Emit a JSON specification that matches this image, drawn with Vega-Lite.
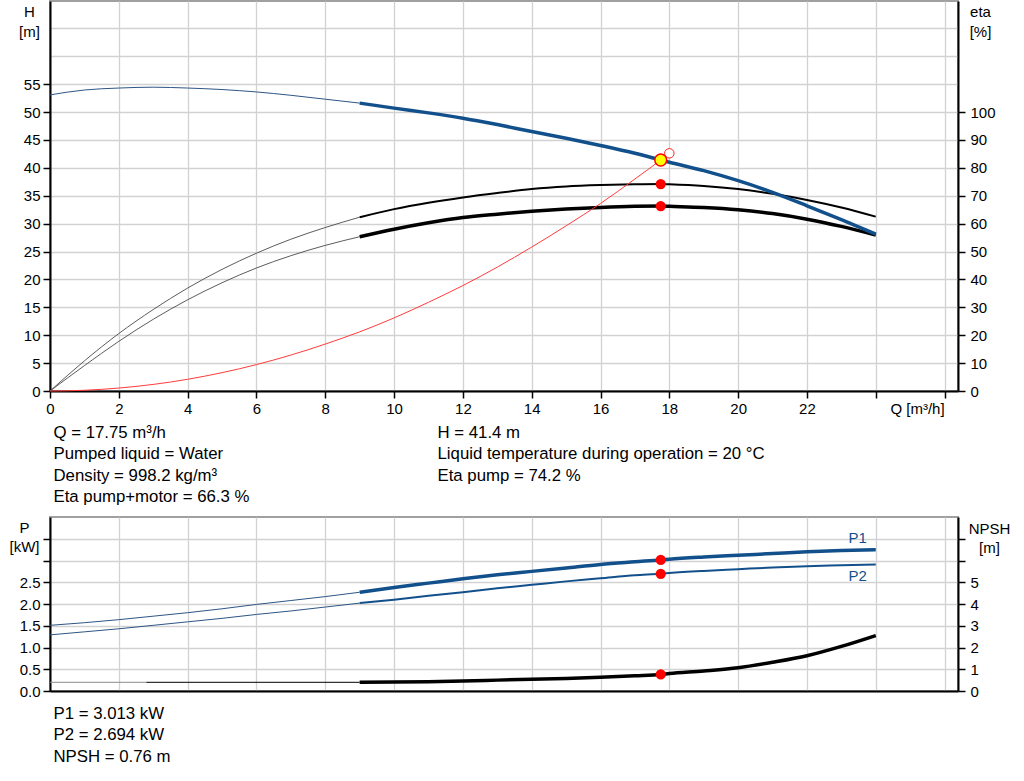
{
  "$schema": "https://vega.github.io/schema/vega-lite/v6.json",
  "description": "Pump performance curves, CR 32-8-2, 60Hz",
  "background": "white",
  "padding": {"left": 8, "top": 0, "right": 0, "bottom": 0},
  "spacing": 0,
  "config": {
    "font": "Liberation Sans",
    "view": {"stroke": "#a0a0a0", "strokeWidth": 2},
    "axis": {
      "labelFont": "Liberation Sans", "labelFontSize": 15, "labelColor": "black",
      "titleFont": "Liberation Sans", "titleFontSize": 15, "titleFontWeight": "normal", "titleColor": "black",
      "domainColor": "black", "domainWidth": 2,
      "tickColor": "black", "tickWidth": 1.5, "tickSize": 7,
      "gridColor": "#d2d2d2", "gridWidth": 1.3, "labelPadding": 3
    },
    "text": {"font": "Liberation Sans", "fontSize": 15, "color": "black"}
  },
  "datasets": {
    "head": [
      {"curve": "H ext", "q": 0, "h": 53.07}, {"curve": "H ext", "q": 1, "h": 53.95}, {"curve": "H ext", "q": 2, "h": 54.3},
      {"curve": "H ext", "q": 3, "h": 54.45}, {"curve": "H ext", "q": 4, "h": 54.3}, {"curve": "H ext", "q": 5, "h": 54.03},
      {"curve": "H ext", "q": 6, "h": 53.6}, {"curve": "H ext", "q": 7, "h": 53.0}, {"curve": "H ext", "q": 8, "h": 52.3},
      {"curve": "H ext", "q": 9, "h": 51.6},
      {"curve": "H", "q": 9, "h": 51.6}, {"curve": "H", "q": 10, "h": 50.7}, {"curve": "H", "q": 11, "h": 49.85},
      {"curve": "H", "q": 12, "h": 48.9}, {"curve": "H", "q": 13, "h": 47.75}, {"curve": "H", "q": 14, "h": 46.5},
      {"curve": "H", "q": 15, "h": 45.3}, {"curve": "H", "q": 16, "h": 44.0}, {"curve": "H", "q": 17, "h": 42.6},
      {"curve": "H", "q": 17.75, "h": 41.4}, {"curve": "H", "q": 18, "h": 41.0}, {"curve": "H", "q": 19, "h": 39.5},
      {"curve": "H", "q": 20, "h": 37.7}, {"curve": "H", "q": 21, "h": 35.6}, {"curve": "H", "q": 22, "h": 33.2},
      {"curve": "H", "q": 23, "h": 30.7}, {"curve": "H", "q": 24, "h": 28.1},
      {"curve": "system", "q": 0, "h": 0}, {"curve": "system", "q": 1, "h": 0.13}, {"curve": "system", "q": 2, "h": 0.53},
      {"curve": "system", "q": 3, "h": 1.18}, {"curve": "system", "q": 4, "h": 2.1}, {"curve": "system", "q": 5, "h": 3.29},
      {"curve": "system", "q": 6, "h": 4.73}, {"curve": "system", "q": 7, "h": 6.44}, {"curve": "system", "q": 8, "h": 8.41},
      {"curve": "system", "q": 9, "h": 10.6}, {"curve": "system", "q": 10, "h": 13.1}, {"curve": "system", "q": 11, "h": 15.9},
      {"curve": "system", "q": 12, "h": 18.9}, {"curve": "system", "q": 13, "h": 22.2}, {"curve": "system", "q": 14, "h": 25.8},
      {"curve": "system", "q": 15, "h": 29.6}, {"curve": "system", "q": 16, "h": 33.6}, {"curve": "system", "q": 17, "h": 38.0},
      {"curve": "system", "q": 17.75, "h": 41.4}, {"curve": "system", "q": 18, "h": 42.6}
    ],
    "eff": [
      {"curve": "eta pump ext", "q": 0, "eta": 0}, {"curve": "eta pump ext", "q": 1, "eta": 10.8}, {"curve": "eta pump ext", "q": 2, "eta": 20.6},
      {"curve": "eta pump ext", "q": 3, "eta": 29.2}, {"curve": "eta pump ext", "q": 4, "eta": 36.9}, {"curve": "eta pump ext", "q": 5, "eta": 43.6},
      {"curve": "eta pump ext", "q": 6, "eta": 49.4}, {"curve": "eta pump ext", "q": 7, "eta": 54.4}, {"curve": "eta pump ext", "q": 8, "eta": 58.6},
      {"curve": "eta pump ext", "q": 9, "eta": 62.3},
      {"curve": "eta pump", "q": 9, "eta": 62.3}, {"curve": "eta pump", "q": 10, "eta": 65.2}, {"curve": "eta pump", "q": 11, "eta": 67.5},
      {"curve": "eta pump", "q": 12, "eta": 69.4}, {"curve": "eta pump", "q": 13, "eta": 71.0}, {"curve": "eta pump", "q": 14, "eta": 72.4},
      {"curve": "eta pump", "q": 15, "eta": 73.3}, {"curve": "eta pump", "q": 16, "eta": 73.8}, {"curve": "eta pump", "q": 17, "eta": 74.1},
      {"curve": "eta pump", "q": 17.75, "eta": 74.2}, {"curve": "eta pump", "q": 18, "eta": 74.1}, {"curve": "eta pump", "q": 19, "eta": 73.5},
      {"curve": "eta pump", "q": 20, "eta": 72.4}, {"curve": "eta pump", "q": 21, "eta": 70.7}, {"curve": "eta pump", "q": 22, "eta": 68.5},
      {"curve": "eta pump", "q": 23, "eta": 65.8}, {"curve": "eta pump", "q": 24, "eta": 62.5},
      {"curve": "eta total ext", "q": 0, "eta": 0}, {"curve": "eta total ext", "q": 1, "eta": 9.1}, {"curve": "eta total ext", "q": 2, "eta": 17.8},
      {"curve": "eta total ext", "q": 3, "eta": 25.7}, {"curve": "eta total ext", "q": 4, "eta": 32.7}, {"curve": "eta total ext", "q": 5, "eta": 38.8},
      {"curve": "eta total ext", "q": 6, "eta": 44.1}, {"curve": "eta total ext", "q": 7, "eta": 48.5}, {"curve": "eta total ext", "q": 8, "eta": 52.2},
      {"curve": "eta total ext", "q": 9, "eta": 55.3},
      {"curve": "eta total", "q": 9, "eta": 55.3}, {"curve": "eta total", "q": 10, "eta": 58.0}, {"curve": "eta total", "q": 11, "eta": 60.3},
      {"curve": "eta total", "q": 12, "eta": 62.2}, {"curve": "eta total", "q": 13, "eta": 63.4}, {"curve": "eta total", "q": 14, "eta": 64.4},
      {"curve": "eta total", "q": 15, "eta": 65.2}, {"curve": "eta total", "q": 16, "eta": 65.8}, {"curve": "eta total", "q": 17, "eta": 66.2},
      {"curve": "eta total", "q": 17.75, "eta": 66.3}, {"curve": "eta total", "q": 18, "eta": 66.2}, {"curve": "eta total", "q": 19, "eta": 65.8},
      {"curve": "eta total", "q": 20, "eta": 65.0}, {"curve": "eta total", "q": 21, "eta": 63.6}, {"curve": "eta total", "q": 22, "eta": 61.6},
      {"curve": "eta total", "q": 23, "eta": 59.0}, {"curve": "eta total", "q": 24, "eta": 55.9}
    ],
    "power": [
      {"curve": "P1 ext", "q": 0, "p": 1.51}, {"curve": "P1 ext", "q": 1, "p": 1.57}, {"curve": "P1 ext", "q": 2, "p": 1.64},
      {"curve": "P1 ext", "q": 3, "p": 1.72}, {"curve": "P1 ext", "q": 4, "p": 1.80}, {"curve": "P1 ext", "q": 5, "p": 1.89},
      {"curve": "P1 ext", "q": 6, "p": 1.99}, {"curve": "P1 ext", "q": 7, "p": 2.08}, {"curve": "P1 ext", "q": 8, "p": 2.17},
      {"curve": "P1 ext", "q": 9, "p": 2.27},
      {"curve": "P1", "q": 9, "p": 2.27}, {"curve": "P1", "q": 10, "p": 2.38}, {"curve": "P1", "q": 11, "p": 2.48},
      {"curve": "P1", "q": 12, "p": 2.58}, {"curve": "P1", "q": 13, "p": 2.67}, {"curve": "P1", "q": 14, "p": 2.75},
      {"curve": "P1", "q": 15, "p": 2.83}, {"curve": "P1", "q": 16, "p": 2.91}, {"curve": "P1", "q": 17, "p": 2.97},
      {"curve": "P1", "q": 17.75, "p": 3.013}, {"curve": "P1", "q": 18, "p": 3.03}, {"curve": "P1", "q": 19, "p": 3.08},
      {"curve": "P1", "q": 20, "p": 3.12}, {"curve": "P1", "q": 21, "p": 3.16}, {"curve": "P1", "q": 22, "p": 3.2},
      {"curve": "P1", "q": 23, "p": 3.23}, {"curve": "P1", "q": 24, "p": 3.25},
      {"curve": "P2 ext", "q": 0, "p": 1.29}, {"curve": "P2 ext", "q": 1, "p": 1.36}, {"curve": "P2 ext", "q": 2, "p": 1.43},
      {"curve": "P2 ext", "q": 3, "p": 1.51}, {"curve": "P2 ext", "q": 4, "p": 1.59}, {"curve": "P2 ext", "q": 5, "p": 1.67},
      {"curve": "P2 ext", "q": 6, "p": 1.76}, {"curve": "P2 ext", "q": 7, "p": 1.84}, {"curve": "P2 ext", "q": 8, "p": 1.93},
      {"curve": "P2 ext", "q": 9, "p": 2.02},
      {"curve": "P2", "q": 9, "p": 2.02}, {"curve": "P2", "q": 10, "p": 2.1}, {"curve": "P2", "q": 11, "p": 2.19},
      {"curve": "P2", "q": 12, "p": 2.27}, {"curve": "P2", "q": 13, "p": 2.36}, {"curve": "P2", "q": 14, "p": 2.44},
      {"curve": "P2", "q": 15, "p": 2.52}, {"curve": "P2", "q": 16, "p": 2.59}, {"curve": "P2", "q": 17, "p": 2.66},
      {"curve": "P2", "q": 17.75, "p": 2.694}, {"curve": "P2", "q": 18, "p": 2.71}, {"curve": "P2", "q": 19, "p": 2.76},
      {"curve": "P2", "q": 20, "p": 2.8}, {"curve": "P2", "q": 21, "p": 2.84}, {"curve": "P2", "q": 22, "p": 2.87},
      {"curve": "P2", "q": 23, "p": 2.89}, {"curve": "P2", "q": 24, "p": 2.91}
    ],
    "npsh": [
      {"curve": "NPSH faint", "q": 0, "m": 0.4}, {"curve": "NPSH faint", "q": 2.8, "m": 0.4},
      {"curve": "NPSH ext", "q": 2.8, "m": 0.4}, {"curve": "NPSH ext", "q": 9, "m": 0.4},
      {"curve": "NPSH", "q": 9, "m": 0.4}, {"curve": "NPSH", "q": 10, "m": 0.41}, {"curve": "NPSH", "q": 11, "m": 0.43},
      {"curve": "NPSH", "q": 12, "m": 0.46}, {"curve": "NPSH", "q": 13, "m": 0.5}, {"curve": "NPSH", "q": 14, "m": 0.54},
      {"curve": "NPSH", "q": 15, "m": 0.58}, {"curve": "NPSH", "q": 16, "m": 0.63}, {"curve": "NPSH", "q": 17, "m": 0.7},
      {"curve": "NPSH", "q": 17.75, "m": 0.76}, {"curve": "NPSH", "q": 18, "m": 0.8}, {"curve": "NPSH", "q": 19, "m": 0.92},
      {"curve": "NPSH", "q": 20, "m": 1.07}, {"curve": "NPSH", "q": 21, "m": 1.32}, {"curve": "NPSH", "q": 22, "m": 1.62},
      {"curve": "NPSH", "q": 23, "m": 2.05}, {"curve": "NPSH", "q": 24, "m": 2.55}
    ],
    "duty": [
      {"q": 17.75, "h": 41.4, "eta_pump": 74.2, "eta_total": 66.3, "p1": 3.013, "p2": 2.694, "npsh": 0.76}
    ],
    "notes_top": [
      {"col": 0, "row": 0, "text": "Q = 17.75 m³/h"},
      {"col": 0, "row": 1, "text": "Pumped liquid = Water"},
      {"col": 0, "row": 2, "text": "Density = 998.2 kg/m³"},
      {"col": 0, "row": 3, "text": "Eta pump+motor = 66.3 %"},
      {"col": 1, "row": 0, "text": "H = 41.4 m"},
      {"col": 1, "row": 1, "text": "Liquid temperature during operation = 20 °C"},
      {"col": 1, "row": 2, "text": "Eta pump = 74.2 %"}
    ],
    "notes_bottom": [
      {"col": 0, "row": 0, "text": "P1 = 3.013 kW"},
      {"col": 0, "row": 1, "text": "P2 = 2.694 kW"},
      {"col": 0, "row": 2, "text": "NPSH = 0.76 m"}
    ]
  },
  "vconcat": [
    {
      "width": 908,
      "height": 390,
      "encoding": {
        "x": {
          "field": "q", "type": "quantitative",
          "scale": {"domain": [0, 26.39], "nice": false, "zero": false},
          "axis": {
            "values": [0, 2, 4, 6, 8, 10, 12, 14, 16, 18, 20, 22, 24, 26],
            "labelExpr": "datum.value >= 24 ? '' : datum.label",
            "labelFlush": false, "labelOverlap": false,
            "title": "Q [m³/h]", "titleX": 867, "titleY": 22,
            "titleAlign": "center", "titleBaseline": "alphabetic",
            "grid": true
          }
        }
      },
      "layer": [
        {
          "data": {"name": "eff"},
          "encoding": {
            "y": {
              "field": "eta", "type": "quantitative",
              "scale": {"domain": [0, 139.8], "nice": false},
              "axis": {
                "orient": "right", "grid": false,
                "values": [0, 10, 20, 30, 40, 50, 60, 70, 80, 90, 100],
                "labelPadding": 5,
                "title": ["eta", "[%]"], "titleAngle": 0, "titleX": 22, "titleY": 15,
                "titleAlign": "center", "titleBaseline": "alphabetic", "titleLineHeight": 20
              }
            }
          },
          "layer": [
            {
              "mark": {"type": "line", "interpolate": "monotone"},
              "encoding": {
                "color": {
                  "field": "curve", "type": "nominal", "legend": null,
                  "scale": {
                    "domain": ["eta pump ext", "eta pump", "eta total ext", "eta total"],
                    "range": ["#4a4a4a", "#000000", "#4a4a4a", "#000000"]
                  }
                },
                "strokeWidth": {
                  "field": "curve", "type": "nominal", "legend": null,
                  "scale": {
                    "type": "ordinal",
                    "domain": ["eta pump ext", "eta pump", "eta total ext", "eta total"],
                    "range": [0.9, 2, 0.9, 3.5]
                  }
                }
              }
            },
            {
              "data": {"name": "duty"},
              "transform": [{"fold": ["eta_pump", "eta_total"], "as": ["kind", "eta"]}],
              "mark": {"type": "circle", "color": "#ff0000", "size": 105, "opacity": 1}
            }
          ]
        },
        {
          "data": {"name": "head"},
          "encoding": {
            "y": {
              "field": "h", "type": "quantitative",
              "scale": {"domain": [0, 69.9], "nice": false},
              "axis": {
                "orient": "left", "grid": true,
                "values": [0, 5, 10, 15, 20, 25, 30, 35, 40, 45, 50, 55, 60, 65],
                "labelExpr": "datum.value > 55 ? '' : datum.label",
                "tickColor": {"condition": {"test": "datum.value > 55", "value": "transparent"}, "value": "black"},
                "title": ["H", "[m]"], "titleAngle": 0, "titleX": -21, "titleY": 15,
                "titleAlign": "center", "titleBaseline": "alphabetic", "titleLineHeight": 20
              }
            }
          },
          "layer": [
            {
              "mark": {"type": "line", "interpolate": "monotone"},
              "encoding": {
                "color": {
                  "field": "curve", "type": "nominal", "legend": null,
                  "scale": {
                    "domain": ["H ext", "H", "system"],
                    "range": ["#2d5585", "#12508c", "#ff3b3b"]
                  }
                },
                "strokeWidth": {
                  "field": "curve", "type": "nominal", "legend": null,
                  "scale": {
                    "type": "ordinal",
                    "domain": ["H ext", "H", "system"],
                    "range": [1, 3.5, 1]
                  }
                }
              }
            },
            {
              "transform": [{"filter": "datum.curve == 'system' && datum.q == 18"}],
              "mark": {"type": "circle", "fill": "white", "stroke": "#ff2020", "strokeWidth": 1, "size": 90, "opacity": 1}
            },
            {
              "data": {"name": "duty"},
              "mark": {"type": "circle", "fill": "#ffff00", "stroke": "#ff0000", "strokeWidth": 1.5, "size": 140, "opacity": 1}
            },
            {
              "data": {"values": [{"label": "CR 32-8-2, 60Hz"}]},
              "mark": {"type": "rect", "fill": "white", "stroke": "#a0a0a0", "strokeWidth": 1},
              "encoding": {"x": {"datum": 22.1}, "x2": {"datum": 26.39}, "y": {"datum": 69.9}, "y2": {"datum": 64.85}}
            },
            {
              "data": {"values": [{"label": "CR 32-8-2, 60Hz"}]},
              "mark": {"type": "text", "align": "center", "baseline": "middle", "fontSize": 15},
              "encoding": {"x": {"datum": 24.1}, "y": {"datum": 67.35}, "text": {"field": "label"}}
            }
          ]
        }
      ],
      "resolve": {"scale": {"y": "independent", "color": "independent", "strokeWidth": "independent"}}
    },
    {
      "width": 908,
      "height": 99,
      "view": {"stroke": null},
      "data": {"name": "notes_top"},
      "mark": {"type": "text", "align": "left", "baseline": "middle", "fontSize": 16.8},
      "encoding": {
        "x": {"field": "col", "type": "quantitative", "scale": {"domain": [-0.0091, 2.3555], "nice": false, "zero": false}, "axis": null},
        "y": {"field": "row", "type": "quantitative", "scale": {"domain": [-0.75, 3.891], "nice": false, "zero": false, "reverse": true}, "axis": null},
        "text": {"field": "text"}
      }
    },
    {
      "width": 908,
      "height": 174,
      "encoding": {
        "x": {
          "field": "q", "type": "quantitative",
          "scale": {"domain": [0, 26.39], "nice": false, "zero": false},
          "axis": {
            "values": [0, 2, 4, 6, 8, 10, 12, 14, 16, 18, 20, 22, 24, 26],
            "labels": false, "ticks": false, "title": null, "grid": true
          }
        }
      },
      "layer": [
        {
          "data": {"name": "power"},
          "encoding": {
            "y": {
              "field": "p", "type": "quantitative",
              "scale": {"domain": [0, 4], "nice": false},
              "axis": {
                "orient": "left", "grid": true,
                "values": [0, 0.5, 1, 1.5, 2, 2.5, 3, 3.5],
                "format": ".1f",
                "labelExpr": "datum.value > 2.5 ? '' : datum.label",
                "title": ["P", "[kW]"], "titleAngle": 0, "titleX": -26, "titleY": 15,
                "titleAlign": "center", "titleBaseline": "alphabetic", "titleLineHeight": 19
              }
            }
          },
          "layer": [
            {
              "mark": {"type": "line", "interpolate": "monotone"},
              "encoding": {
                "color": {
                  "field": "curve", "type": "nominal", "legend": null,
                  "scale": {
                    "domain": ["P1 ext", "P1", "P2 ext", "P2"],
                    "range": ["#2d5585", "#12508c", "#2d5585", "#12508c"]
                  }
                },
                "strokeWidth": {
                  "field": "curve", "type": "nominal", "legend": null,
                  "scale": {
                    "type": "ordinal",
                    "domain": ["P1 ext", "P1", "P2 ext", "P2"],
                    "range": [1, 3.5, 1, 2]
                  }
                }
              }
            },
            {
              "data": {"name": "duty"},
              "transform": [{"fold": ["p1", "p2"], "as": ["kind", "p"]}],
              "mark": {"type": "circle", "color": "#ff0000", "size": 105, "opacity": 1}
            },
            {
              "transform": [{"filter": "datum.curve == 'P1' && datum.q == 24"}],
              "mark": {"type": "text", "align": "center", "baseline": "middle", "fontSize": 15, "color": "#12508c", "dx": -18, "dy": -12},
              "encoding": {"text": {"value": "P1"}}
            },
            {
              "transform": [{"filter": "datum.curve == 'P2' && datum.q == 24"}],
              "mark": {"type": "text", "align": "center", "baseline": "middle", "fontSize": 15, "color": "#12508c", "dx": -18, "dy": 12},
              "encoding": {"text": {"value": "P2"}}
            }
          ]
        },
        {
          "data": {"name": "npsh"},
          "encoding": {
            "y": {
              "field": "m", "type": "quantitative",
              "scale": {"domain": [0, 8], "nice": false},
              "axis": {
                "orient": "right", "grid": false,
                "values": [0, 1, 2, 3, 4, 5, 6, 7],
                "labelExpr": "datum.value > 5 ? '' : datum.label",
                "labelPadding": 5,
                "title": ["NPSH", "[m]"], "titleAngle": 0, "titleX": 31, "titleY": 16,
                "titleAlign": "center", "titleBaseline": "alphabetic", "titleLineHeight": 19
              }
            }
          },
          "layer": [
            {
              "mark": {"type": "line", "interpolate": "monotone"},
              "encoding": {
                "color": {
                  "field": "curve", "type": "nominal", "legend": null,
                  "scale": {
                    "domain": ["NPSH faint", "NPSH ext", "NPSH"],
                    "range": ["#8a8a8a", "#000000", "#000000"]
                  }
                },
                "strokeWidth": {
                  "field": "curve", "type": "nominal", "legend": null,
                  "scale": {
                    "type": "ordinal",
                    "domain": ["NPSH faint", "NPSH ext", "NPSH"],
                    "range": [1, 1, 3.5]
                  }
                }
              }
            },
            {
              "data": {"name": "duty"},
              "transform": [{"calculate": "datum.npsh", "as": "m"}],
              "mark": {"type": "circle", "color": "#ff0000", "size": 105, "opacity": 1}
            }
          ]
        }
      ],
      "resolve": {"scale": {"y": "independent", "color": "independent", "strokeWidth": "independent"}}
    },
    {
      "width": 908,
      "height": 82,
      "view": {"stroke": null},
      "data": {"name": "notes_bottom"},
      "mark": {"type": "text", "align": "left", "baseline": "middle", "fontSize": 16.8},
      "encoding": {
        "x": {"field": "col", "type": "quantitative", "scale": {"domain": [-0.0091, 2.3555], "nice": false, "zero": false}, "axis": null},
        "y": {"field": "row", "type": "quantitative", "scale": {"domain": [-0.656, 3.188], "nice": false, "zero": false, "reverse": true}, "axis": null},
        "text": {"field": "text"}
      }
    }
  ]
}
